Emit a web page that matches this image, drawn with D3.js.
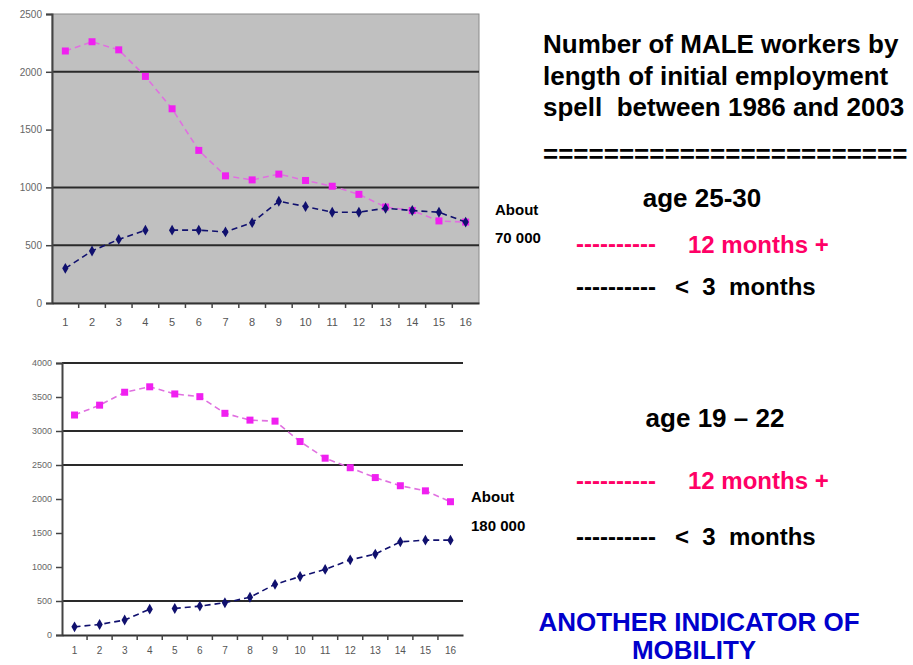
<!DOCTYPE html>
<html>
<head>
<meta charset="utf-8">
<script src="https://cdn.jsdelivr.net/npm/d3@7"></script>
<style>
  body { margin: 0; background: #fff; }
  svg { display: block; font-family: "Liberation Sans", Arial, sans-serif; }
</style>
</head>
<body>
<script>
// Data
var categories = [1, 2, 3, 4, 5, 6, 7, 8, 9, 10, 11, 12, 13, 14, 15, 16];

// age 25-30
var topLong  = [2180, 2260, 2190, 1960, 1680, 1320, 1100, 1065, 1115, 1060, 1010, 940, 830, 800, 710, 700];
var topShort = [300, 450, 550, 630, 630, 630, 615, 695, 880, 835, 785, 785, 820, 800, 785, 700];
var topTicks = [0, 500, 1000, 1500, 2000, 2500];
var topGrid  = [500, 1000, 2000];

// age 19 - 22
var bottomLong  = [3235, 3380, 3570, 3650, 3545, 3505, 3260, 3160, 3145, 2845, 2600, 2460, 2315, 2195, 2120, 1960];
var bottomShort = [120, 155, 220, 380, 390, 425, 475, 555, 745, 860, 965, 1105, 1190, 1370, 1395, 1395];
var bottomTicks = [0, 500, 1000, 1500, 2000, 2500, 3000, 3500, 4000];
var bottomGrid  = [500, 2500, 3000, 4000];

// the short-spell line has no segment after this category
var shortBreak = 4;

var W = 913, H = 665;
var pinkLine = "#e070e0", pinkDot = "#f020f0", navy = "#10106e";

var svg = d3.select("body").append("svg")
  .attr("width", W).attr("height", H);

function drawChart(o) {
  var x = d3.scaleBand().domain(categories).range([o.left, o.right]);
  var y = d3.scaleLinear().domain([0, o.max]).range([o.bottom, o.top]);
  var g = svg.append("g");

  if (o.fill) {
    g.append("rect")
      .attr("x", o.left).attr("y", o.top)
      .attr("width", o.right - o.left).attr("height", o.bottom - o.top)
      .attr("fill", o.fill)
      .attr("stroke", "#8a8a8a").attr("stroke-width", 1);
  }

  // gridlines
  g.selectAll(".grid").data(o.grid).enter().append("line")
    .attr("x1", o.left).attr("x2", o.right)
    .attr("y1", function(d) { return y(d); })
    .attr("y2", function(d) { return y(d); })
    .attr("stroke", "#2a2a2a").attr("stroke-width", 2);

  // axes
  var yAxis = d3.axisLeft(y).tickValues(o.ticks).tickSize(6).tickPadding(4)
    .tickFormat(d3.format("d"));
  var gy = g.append("g").attr("transform", "translate(" + o.left + ",0)").call(yAxis);
  gy.select(".domain").attr("stroke", "#444").attr("stroke-width", 2);
  gy.selectAll(".tick line").attr("stroke", "#444").attr("stroke-width", 1.5);
  gy.selectAll("text").attr("fill", "#666").attr("font-size", o.fs)
    .attr("font-family", "'Liberation Sans', Arial, sans-serif");

  var xAxis = d3.axisBottom(x).tickSize(0).tickPadding(o.xpad);
  var gx = g.append("g").attr("transform", "translate(0," + o.bottom + ")").call(xAxis);
  gx.select(".domain").attr("stroke", "#333").attr("stroke-width", 2);
  gx.selectAll("text").attr("fill", "#555").attr("font-size", o.fs + 1)
    .attr("font-family", "'Liberation Sans', Arial, sans-serif");
  // small ticks between categories
  gx.selectAll(".sep").data(categories.slice(1)).enter().append("line")
    .attr("x1", function(d) { return x(d); })
    .attr("x2", function(d) { return x(d); })
    .attr("y1", 0).attr("y2", 5)
    .attr("stroke", "#444").attr("stroke-width", 1.5);

  var px = function(d, i) { return x(categories[i]) + x.bandwidth() / 2; };

  // 12 months + (pink)
  var longLine = d3.line().x(px).y(function(d) { return y(d); });
  g.append("path").datum(o.long)
    .attr("d", longLine)
    .attr("fill", "none").attr("stroke", pinkLine)
    .attr("stroke-width", 1.6).attr("stroke-dasharray", "6,4");
  g.selectAll(".sq").data(o.long).enter().append("rect")
    .attr("x", function(d, i) { return px(d, i) - 3.5; })
    .attr("y", function(d) { return y(d) - 3.5; })
    .attr("width", 7).attr("height", 7)
    .attr("fill", pinkDot);

  // < 3 months (navy), with the gap after category 4
  var segs = [o.short.slice(0, shortBreak), o.short.slice(shortBreak)];
  var shortLine = d3.line()
    .x(function(d) { return x(d[0]) + x.bandwidth() / 2; })
    .y(function(d) { return y(d[1]); });
  segs.forEach(function(s, k) {
    var pts = s.map(function(v, i) { return [categories[i + k * shortBreak], v]; });
    g.append("path").datum(pts)
      .attr("d", shortLine)
      .attr("fill", "none").attr("stroke", navy)
      .attr("stroke-width", 1.6).attr("stroke-dasharray", "6,4");
  });
  var diamond = d3.symbol().type(d3.symbolDiamond).size(34);
  g.selectAll(".dm").data(o.short).enter().append("path")
    .attr("d", diamond)
    .attr("transform", function(d, i) { return "translate(" + px(d, i) + "," + y(d) + ")"; })
    .attr("fill", navy);
}

drawChart({ left: 52, right: 479, top: 14, bottom: 303, max: 2500,
  ticks: topTicks, grid: topGrid, long: topLong, short: topShort,
  fill: "#c0c0c0", fs: 10, xpad: 15 });

drawChart({ left: 62, right: 463, top: 363, bottom: 635, max: 4000,
  ticks: bottomTicks, grid: bottomGrid, long: bottomLong, short: bottomShort,
  fill: null, fs: 9, xpad: 12 });

// Text panel
function txt(s, xx, yy, size, color, anchor) {
  return svg.append("text")
    .attr("x", xx).attr("y", yy)
    .attr("font-size", size).attr("font-weight", "bold")
    .attr("fill", color || "#000")
    .attr("text-anchor", anchor || "start")
    .text(s);
}

txt("Number of MALE workers by", 543, 53, 26);
txt("length of initial employment", 543, 85, 26);
txt("spell  between 1986 and 2003", 543, 116, 26).attr("xml:space", "preserve");
txt("========================", 543, 163, 26);

txt("age 25-30", 702, 207, 26, "#000", "middle");
txt("About", 495, 215, 15);
txt("70 000", 495, 243, 15);
txt("----------", 576, 252, 24, "#ff0066");
txt("12 months +", 688, 253, 24, "#ff0066");
txt("----------", 576, 295, 24);
txt("<  3  months", 675, 295, 24).attr("xml:space", "preserve");

txt("age 19 \u2013 22", 715, 427, 26, "#000", "middle");
txt("About", 471, 502, 15);
txt("180 000", 471, 531, 15);
txt("----------", 576, 489, 24, "#ff0066");
txt("12 months +", 688, 489, 24, "#ff0066");
txt("----------", 576, 545, 24);
txt("<  3  months", 675, 545, 24).attr("xml:space", "preserve");

txt("ANOTHER INDICATOR OF", 699, 631, 26, "#0000cc", "middle");
txt("MOBILITY", 694, 659, 26, "#0000cc", "middle");
</script>
</body>
</html>
